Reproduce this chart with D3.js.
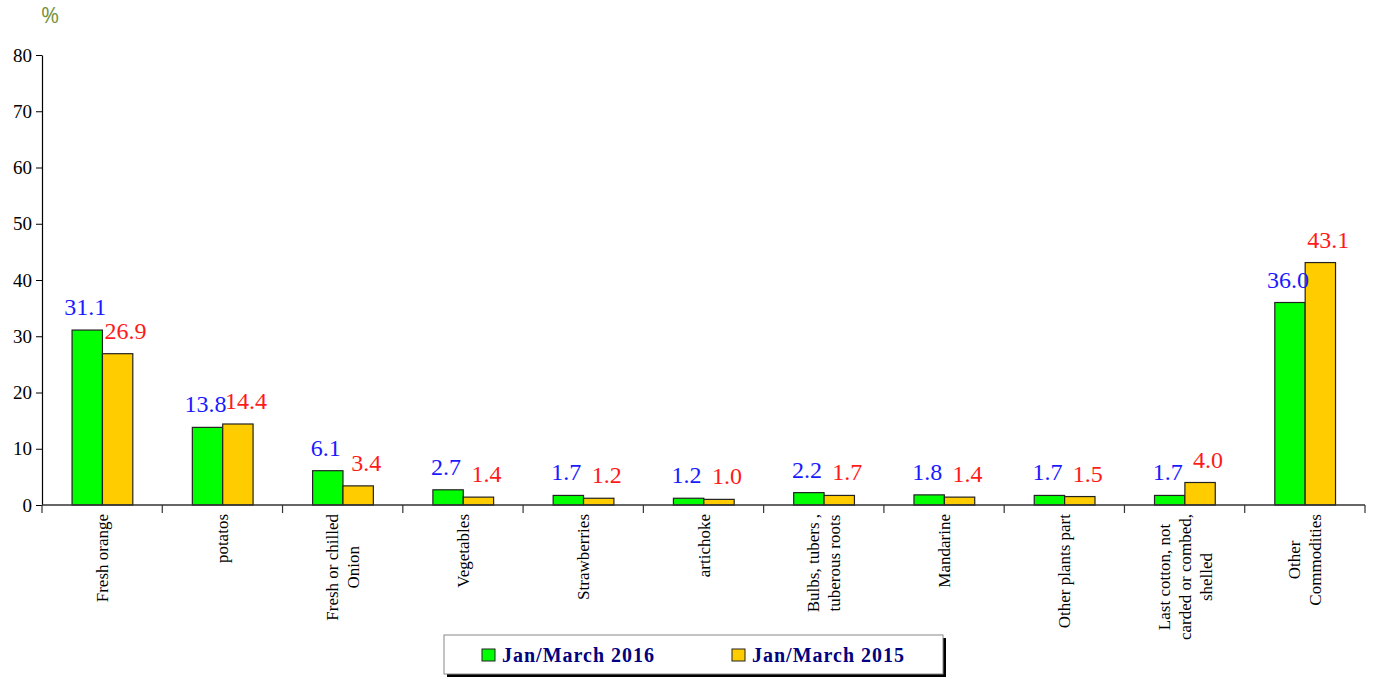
<!DOCTYPE html>
<html>
<head>
<meta charset="utf-8">
<script src="https://cdn.jsdelivr.net/npm/d3@7"></script>
<style>
  html, body { margin: 0; padding: 0; background: #fff; }
  svg { display: block; }
</style>
</head>
<body>
<svg id="chart" width="1378" height="679"></svg>
<script>
// ---- data ----
const categories = [
  ["Fresh orange"],
  ["potatos"],
  ["Fresh or chilled", "Onion"],
  ["Vegetables"],
  ["Strawberries"],
  ["artichoke"],
  ["Bulbs, tubers ,", "tuberous roots"],
  ["Mandarine"],
  ["Other plants part"],
  ["Last cotton, not", "carded or combed,", "shelled"],
  ["Other", "Commodities"]
];
const seriesNames = ["Jan/March 2016", "Jan/March 2015"];
const values2016 = [31.1, 13.8, 6.1, 2.7, 1.7, 1.2, 2.2, 1.8, 1.7, 1.7, 36.0];
const values2015 = [26.9, 14.4, 3.4, 1.4, 1.2, 1.0, 1.7, 1.4, 1.5, 4.0, 43.1];
const yTicks = [0, 10, 20, 30, 40, 50, 60, 70, 80];
const unitLabel = "%";

// ---- styles ----
const barColors = ["#00ff00", "#ffcc00"];
const labelColors = ["#1a1aff", "#ff1a1a"];
const serif = "Liberation Serif, serif";

const svg = d3.select("#chart");
const x0 = 42, x1End = 1365, yTop = 55, yBase = 505;

const keys = categories.map((c, i) => i);
const x = d3.scaleBand().domain(keys).range([x0, x1End]).padding(0);
const bw = x.bandwidth();
const xs = d3.scaleBand().domain([0, 1]).range([bw * 0.25, bw * 0.755]).padding(0);
const y = d3.scaleLinear().domain([0, 80]).range([yBase, yTop]);

const series = [values2016, values2015];

// bars
const groups = svg.append("g").selectAll("g")
  .data(keys).join("g")
  .attr("transform", d => `translate(${x(d)},0)`);

groups.selectAll("rect")
  .data(i => series.map((s, k) => ({ k, v: s[i] })))
  .join("rect")
  .attr("x", d => xs(d.k))
  .attr("width", xs.bandwidth())
  .attr("y", d => y(d.v))
  .attr("height", d => y(0) - y(d.v))
  .attr("fill", d => barColors[d.k])
  .attr("stroke", "#222")
  .attr("stroke-width", 1.2);

// value labels
const labelDx = [-2, 8];
groups.selectAll("text.val")
  .data(i => series.map((s, k) => ({ k, v: s[i] })))
  .join("text")
  .attr("class", "val")
  .attr("x", d => xs(d.k) + xs.bandwidth() / 2 + labelDx[d.k])
  .attr("y", d => y(d.v) - 15)
  .attr("text-anchor", "middle")
  .style("font-family", serif)
  .attr("font-size", 24)
  .attr("fill", d => labelColors[d.k])
  .text(d => d.v.toFixed(1));

// y axis
const yAxis = d3.axisLeft(y).tickValues(yTicks).tickSize(6).tickPadding(4).tickSizeOuter(0);
const gy = svg.append("g").attr("transform", `translate(${x0},0)`).call(yAxis);
gy.select(".domain").attr("stroke", "#000").attr("stroke-width", 1.2);
gy.selectAll(".tick line").attr("stroke", "#000");
gy.selectAll(".tick text").style("font-family", serif).attr("font-size", 19).attr("fill", "#000");

// x axis (ticks at category boundaries)
const boundaries = keys.map(k => x(k)).concat([x1End]);
const gx = svg.append("g");
gx.append("line").attr("x1", x0).attr("x2", x1End).attr("y1", yBase).attr("y2", yBase)
  .attr("stroke", "#333").attr("stroke-width", 1.5);
gx.selectAll("line.tk").data(boundaries).join("line").attr("class", "tk")
  .attr("x1", d => d).attr("x2", d => d).attr("y1", yBase).attr("y2", yBase + 8)
  .attr("stroke", "#333").attr("stroke-width", 1.2);

// category labels (rotated)
const lineH = 21;
const catG = svg.append("g");
keys.forEach(i => {
  const lines = categories[i];
  const g = catG.append("g");
  const t = g.append("text")
    .style("font-family", serif)
    .attr("font-size", 17)
    .attr("fill", "#000")
    .attr("text-anchor", "middle");
  lines.forEach((ln, j) => {
    t.append("tspan").attr("x", 0).attr("y", (j - (lines.length - 1) / 2) * lineH + 6).text(ln);
  });
  let maxLen = 0;
  t.selectAll("tspan").each(function () { maxLen = Math.max(maxLen, this.getComputedTextLength()); });
  const cx = x(i) + bw / 2;
  const cy = yBase + 9 + maxLen / 2;
  g.attr("transform", `translate(${cx},${cy}) rotate(-90)`);
});

// unit label
svg.append("text")
  .attr("x", 41).attr("y", 23)
  .style("font-family", "Open Sans, Noto Sans, sans-serif")
  .attr("font-size", 22)
  .attr("fill", "#77933c")
  .text(unitLabel);

// legend
const lg = svg.append("g");
const lgX = 444, lgY = 635, lgW = 499, lgH = 39;
lg.append("rect").attr("x", lgX + 3).attr("y", lgY + 3).attr("width", lgW).attr("height", lgH).attr("fill", "#000");
lg.append("rect").attr("x", lgX).attr("y", lgY).attr("width", lgW).attr("height", lgH)
  .attr("fill", "#fff").attr("stroke", "#888").attr("stroke-width", 1);
const legX = [482, 732];
seriesNames.forEach((name, k) => {
  lg.append("rect").attr("x", legX[k]).attr("y", 649).attr("width", 13).attr("height", 12)
    .attr("fill", barColors[k]).attr("stroke", "#222").attr("stroke-width", 1);
  lg.append("text").attr("x", legX[k] + 20).attr("y", 662)
    .style("font-family", serif).attr("font-weight", "bold").attr("font-size", 20)
    .attr("letter-spacing", 1)
    .attr("fill", "#000080").text(name);
});
</script>
</body>
</html>
